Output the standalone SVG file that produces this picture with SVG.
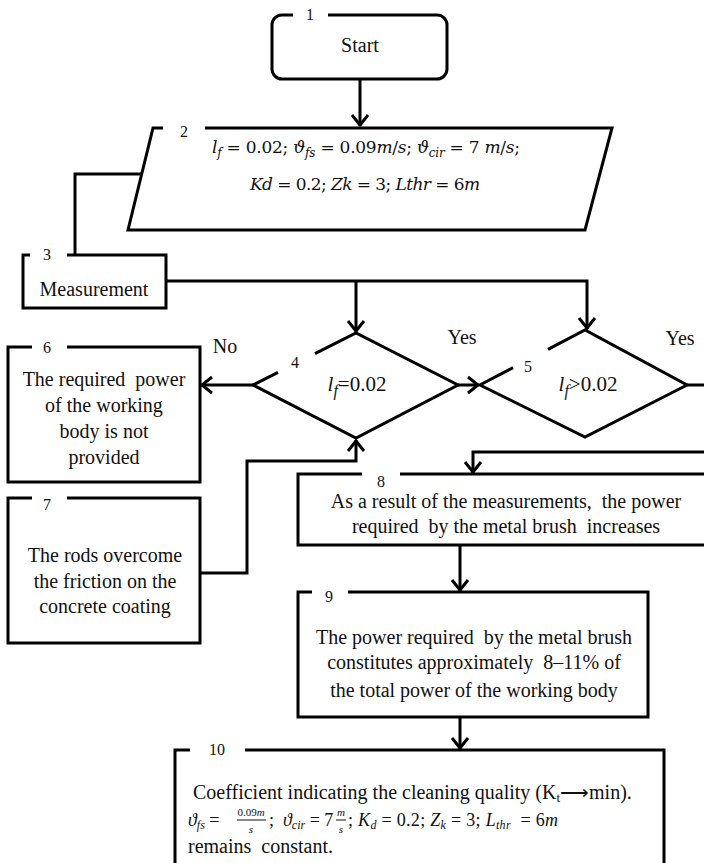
<svg xmlns="http://www.w3.org/2000/svg" width="704" height="863" viewBox="0 0 704 863">
  <style>
    .edge { fill: none; stroke: #000; stroke-width: 3; stroke-linejoin: miter; }
    .wire { fill: none; stroke: #000; stroke-width: 3; }
    text { font-family: 'Liberation Serif', 'Times New Roman', serif; fill: #111; }
    .t { font-size: 20px; }
    .num { font-size: 16px; text-anchor: middle; }
    .mid { text-anchor: middle; }
    .i { font-style: italic; }
    .math { font-family: 'DejaVu Serif', 'Liberation Serif', serif; }
  </style>
  <defs>
    <marker id="arrow" markerUnits="userSpaceOnUse" viewBox="-14 -10 16 20" refX="0" refY="0" markerWidth="16" markerHeight="20" orient="auto">
      <path d="M -11 -8 L -1 0 L -11 8" fill="none" stroke="#000" stroke-width="3"/>
    </marker>
  </defs>
  <rect width="704" height="863" fill="#fff"/>

  <!-- connectors -->
  <g id="connectors">
    <path class="wire" d="M 360 79 V 126" marker-end="url(#arrow)"/>
    <path class="wire" d="M 142 174 H 75 V 255"/>
    <path class="wire" d="M 166 281 H 587 V 329" marker-end="url(#arrow)"/>
    <path class="wire" d="M 356 281 V 332" marker-end="url(#arrow)"/>
    <path class="wire" d="M 253 385 H 201" marker-end="url(#arrow)"/>
    <path class="wire" d="M 458 385 H 479" marker-end="url(#arrow)"/>
    <path class="wire" d="M 687 385 H 720 V 452 H 473 V 473" marker-end="url(#arrow)"/>
    <path class="wire" d="M 200 573 H 247 V 461 H 356 V 440" marker-end="url(#arrow)"/>
    <path class="wire" d="M 460 545 V 591" marker-end="url(#arrow)"/>
    <path class="wire" d="M 460 717 V 749" marker-end="url(#arrow)"/>
    <text class="t mid" x="225" y="353" font-size="18">No</text>
    <text class="t mid" x="462" y="344" font-size="18">Yes</text>
    <text class="t mid" x="680" y="345" font-size="18">Yes</text>
  </g>

  <!-- 1: start -->
  <g id="node1">
    <path class="edge" d="M 328 15 H 437 A 10 10 0 0 1 447 25 V 69 A 10 10 0 0 1 437 79 H 282 A 10 10 0 0 1 272 69 V 25 A 10 10 0 0 1 282 15 H 293"/>
    <text class="num" x="310" y="20">1</text>
    <text class="t mid" x="360" y="52">Start</text>
  </g>

  <!-- 2: input data -->
  <g id="node2">
    <path class="edge" d="M 205 128 H 612 L 585 230 H 128 L 153 128 H 163"/>
    <text class="num" x="184" y="137">2</text>
    <text class="math" x="212" y="153" font-size="17" textLength="308" lengthAdjust="spacing"><tspan class="i">l</tspan><tspan class="i" font-size="12" dy="4">f</tspan><tspan dy="-4"> = 0.02; </tspan><tspan class="i">ϑ</tspan><tspan class="i" font-size="12" dy="4">fs</tspan><tspan dy="-4"> = 0.09</tspan><tspan class="i">m</tspan>/<tspan class="i">s</tspan>; <tspan class="i">ϑ</tspan><tspan class="i" font-size="12" dy="4">cir</tspan><tspan dy="-4"> = 7 </tspan><tspan class="i">m</tspan>/<tspan class="i">s</tspan>;</text>
    <text class="math" x="250" y="190" font-size="17" textLength="230" lengthAdjust="spacing"><tspan class="i">Kd</tspan> = 0.2; <tspan class="i">Zk</tspan> = 3; <tspan class="i">Lthr</tspan> = 6<tspan class="i">m</tspan></text>
  </g>

  <!-- 3: measurement -->
  <g id="node3">
    <path class="edge" d="M 67 255 H 166 V 308 H 23 V 255 H 30"/>
    <text class="num" x="47" y="260">3</text>
    <text class="t mid" x="94" y="296">Measurement</text>
  </g>

  <!-- 4: decision l_f = 0.02 -->
  <g id="node4">
    <path class="edge" d="M 315 353.7 L 356 333 L 458 385 L 356 438 L 253 385 L 278 372.4"/>
    <text class="num" x="295" y="368">4</text>
    <text class="mid" x="357" y="391" font-size="21"><tspan class="i">l</tspan><tspan class="i" font-size="16" dy="5">f</tspan><tspan dy="-5">=0.02</tspan></text>
  </g>

  <!-- 5: decision l_f > 0.02 -->
  <g id="node5">
    <path class="edge" d="M 548 349.4 L 585 330 L 687 385 L 585 437 L 480 385 L 513 367.7"/>
    <text class="num" x="528" y="372">5</text>
    <text class="mid" x="588" y="391" font-size="21"><tspan class="i">l</tspan><tspan class="i" font-size="16" dy="5">f</tspan><tspan dy="-5">&gt;0.02</tspan></text>
  </g>

  <!-- 6 -->
  <g id="node6">
    <path class="edge" d="M 67 347 H 200 V 482 H 8 V 347 H 32"/>
    <text class="num" x="47" y="353">6</text>
    <text class="t mid" x="104" y="386" xml:space="preserve">The required  power</text>
    <text class="t mid" x="104" y="412">of the working</text>
    <text class="t mid" x="104" y="438">body is not</text>
    <text class="t mid" x="104" y="464">provided</text>
  </g>

  <!-- 7 -->
  <g id="node7">
    <path class="edge" d="M 67 498 H 200 V 643 H 8 V 498 H 32"/>
    <text class="num" x="47" y="510">7</text>
    <text class="t mid" x="105" y="562">The rods overcome</text>
    <text class="t mid" x="105" y="588">the friction on the</text>
    <text class="t mid" x="105" y="613">concrete coating</text>
  </g>

  <!-- 8 -->
  <g id="node8">
    <path class="edge" d="M 400 474 H 712 M 712 545 H 298 V 474 H 362"/>
    <text class="num" x="381" y="487">8</text>
    <text class="t mid" x="506" y="508" xml:space="preserve">As a result of the measurements,  the power</text>
    <text class="t mid" x="506" y="533" xml:space="preserve">required  by the metal brush  increases</text>
  </g>

  <!-- 9 -->
  <g id="node9">
    <path class="edge" d="M 348 592 H 648 V 717 H 298 V 592 H 312"/>
    <text class="num" x="329" y="602">9</text>
    <text class="t mid" x="474" y="644" xml:space="preserve">The power required  by the metal brush</text>
    <text class="t mid" x="474" y="669" xml:space="preserve">constitutes approximately  8–11% of</text>
    <text class="t mid" x="474" y="697">the total power of the working body</text>
  </g>

  <!-- 10 -->
  <g id="node10">
    <path class="edge" d="M 245 750 H 664 V 866 M 175 866 V 750 H 190"/>
    <text class="num" x="217" y="755">10</text>
    <text class="t" x="193" y="799">Coefficient indicating the cleaning quality (K<tspan font-size="13" dy="3">t</tspan><tspan dy="-3">⟶min).</tspan></text>
    <g font-size="18">
      <text x="188" y="826"><tspan class="i">ϑ</tspan><tspan class="i" font-size="12" dy="3">fs</tspan><tspan dy="-3"> = </tspan></text>
      <text x="251" y="816" font-size="11" text-anchor="middle">0.09<tspan class="i">m</tspan></text>
      <line x1="237" y1="820" x2="266" y2="820" stroke="#111" stroke-width="1"/>
      <text class="i" x="251" y="833" font-size="11" text-anchor="middle">s</text>
      <text x="269" y="826" xml:space="preserve">;  <tspan class="i">ϑ</tspan><tspan class="i" font-size="12" dy="3">cir</tspan><tspan dy="-3"> = 7</tspan></text>
      <text class="i" x="341" y="816" font-size="11" text-anchor="middle">m</text>
      <line x1="336" y1="820" x2="346" y2="820" stroke="#111" stroke-width="1"/>
      <text class="i" x="341" y="833" font-size="11" text-anchor="middle">s</text>
      <text x="348" y="826" textLength="210" lengthAdjust="spacing" xml:space="preserve">; <tspan class="i">K</tspan><tspan class="i" font-size="12" dy="3">d</tspan><tspan dy="-3"> = 0.2; </tspan><tspan class="i">Z</tspan><tspan class="i" font-size="12" dy="3">k</tspan><tspan dy="-3"> = 3; </tspan><tspan class="i">L</tspan><tspan class="i" font-size="12" dy="3">thr</tspan><tspan dy="-3">  = 6</tspan><tspan class="i">m</tspan></text>
    </g>
    <text class="t" x="188" y="853" xml:space="preserve">remains  constant.</text>
  </g>
</svg>
